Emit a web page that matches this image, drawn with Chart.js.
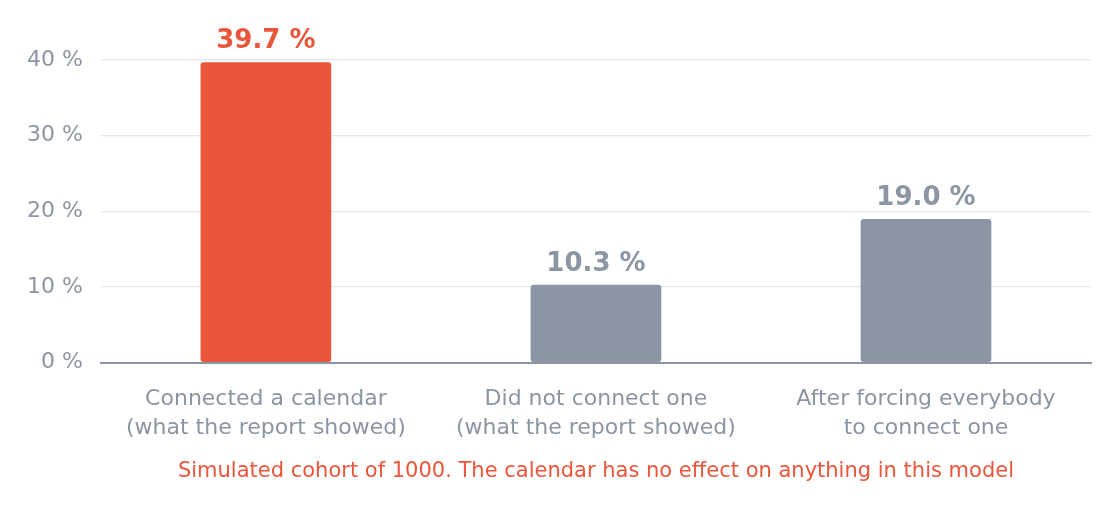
<!DOCTYPE html>
<html><head><meta charset="utf-8">
<script src="https://cdn.jsdelivr.net/npm/chart.js@4"></script>
<style>html,body{margin:0;padding:0;background:#fff}#wrap{width:1119px;height:511px}</style>
</head><body><div id="wrap"><canvas id="c"></canvas></div>
<script>
const categories = [["Connected a calendar","(what the report showed)"],["Did not connect one","(what the report showed)"],["After forcing everybody","to connect one"]];
const values = [39.7, 10.3, 19.0];
const yTicks = [0, 10, 20, 30, 40];
const caption = "Simulated cohort of 1000. The calendar has no effect on anything in this model";
const RED = "#EA563B", GRAY = "#8C95A3";
const barColors = [RED, GRAY, GRAY];
const FONT = "'DejaVu Sans', sans-serif";

const labelPlugin = {
  id: 'valueLabels',
  afterDatasetsDraw(chart) {
    const ctx = chart.ctx;
    const meta = chart.getDatasetMeta(0);
    ctx.save();
    ctx.font = "bold 26px " + FONT;
    ctx.textAlign = 'center';
    ctx.textBaseline = 'bottom';
    meta.data.forEach((bar, i) => {
      ctx.fillStyle = barColors[i];
      ctx.fillText(values[i].toFixed(1) + ' %', bar.x, bar.y - 8);
    });
    ctx.restore();
  }
};

new Chart(document.getElementById('c'), {
  type: 'bar',
  data: { labels: categories, datasets: [{ data: values, backgroundColor: barColors, borderRadius: 3, borderSkipped: false, categoryPercentage: 1, barPercentage: 0.396 }] },
  options: {
    responsive: true, maintainAspectRatio: false, animation: false,
    layout: { padding: { top: 60, right: 28, left: 9, bottom: 27 } },
    plugins: { legend: { display: false }, tooltip: { enabled: false } },
    scales: {
      y: {
        min: 0, max: 40,
        afterBuildTicks(axis) { axis.ticks = yTicks.map(v => ({ value: v })); },
        ticks: { callback: v => v + ' %', color: GRAY, font: { family: FONT, size: 22 }, padding: 18 },
        grid: { color: '#E2E5E9', lineWidth: 1.2, drawTicks: false },
        border: { display: false }
      },
      x: {
        ticks: { color: GRAY, font: { family: FONT, size: 22, lineHeight: 1.32 }, padding: 22 },
        grid: { display: false, drawTicks: false },
        border: { display: true, color: GRAY, width: 2 },
        title: { display: true, text: caption, color: RED, font: { family: FONT, size: 21 }, padding: { top: -6, bottom: 0 } }
      }
    }
  },
  plugins: [labelPlugin]
});
</script></body></html>
